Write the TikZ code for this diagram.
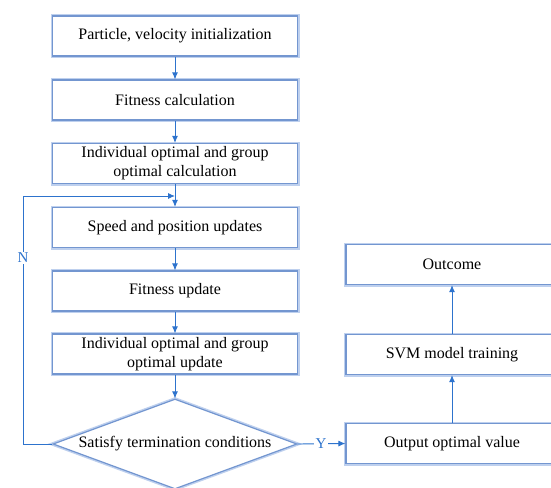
\documentclass[tikz,border=0pt]{standalone}
\usepackage{fontspec}
\setmainfont{Liberation Serif}
\usetikzlibrary{arrows.meta,shapes.geometric}
\definecolor{edge}{RGB}{115,150,208}
\definecolor{glow}{RGB}{190,208,238}
\definecolor{arr}{RGB}{45,115,205}
\tikzset{
  box/.style={draw=edge, line width=1.2pt, fill=white,
    preaction={draw=glow, line width=4pt},
    minimum width=#1, minimum height=40pt, inner sep=0pt, align=center,
    font=\fontsize{16pt}{19pt}\selectfont},
  box/.default=245pt,
  decision/.style={diamond, draw=edge, line width=1.2pt, fill=white,
    preaction={draw=glow, line width=4pt},
    minimum width=244pt, minimum height=90pt, inner sep=0pt, aspect=2.71,
    font=\fontsize{16pt}{19pt}\selectfont},
  link/.style={draw=arr, line width=0.9pt, -{Latex[length=7pt,width=6pt]}},
  lab/.style={text=arr, fill=white, inner sep=1.5pt, font=\fontsize{15pt}{18pt}\selectfont}
}
\begin{document}
\begin{tikzpicture}[x=1pt,y=-1pt]
\useasboundingbox (0,0) rectangle (551,487);
\clip (0,0) rectangle (551,487);
\node[box] (b1) at (175,36) {Particle, velocity initialization};
\node[box] (b2) at (175,100) {Fitness calculation};
\node[box] (b3) at (175,163.5) {Individual optimal and group\\optimal calculation};
\node[box] (b4) at (175,227.5) {Speed and position updates};
\node[box] (b5) at (175,291) {Fitness update};
\node[box] (b6) at (175,354) {Individual optimal and group\\optimal update};
\node[decision] (d) at (175,444) {Satisfy termination conditions};
\node[box=212pt] (o1) at (452,443.5) {Output optimal value};
\node[box=212pt] (o2) at (452,354.5) {SVM model training};
\node[box=212pt] (o3) at (452,264.5) {Outcome};
\coordinate (j) at (175,196);
\coordinate (c1) at (23,444);
\coordinate (c2) at (23,196);
\draw[link] (b1) -- (b2);
\draw[link] (b2) -- (b3);
\draw[link] (b3) -- (b4);
\draw[link] (b4) -- (b5);
\draw[link] (b5) -- (b6);
\draw[link] (b6) -- (d);
\draw[link] (d.west) -- (c1) -- (c2) -- (j);
\node[lab] (n) at (23,258) {N};
\draw[link] (d.east) -- (o1.west);
\node[lab] (y) at (321,443.5) {Y};
\draw[link] (o1) -- (o2);
\draw[link] (o2) -- (o3);
\end{tikzpicture}
\end{document}
